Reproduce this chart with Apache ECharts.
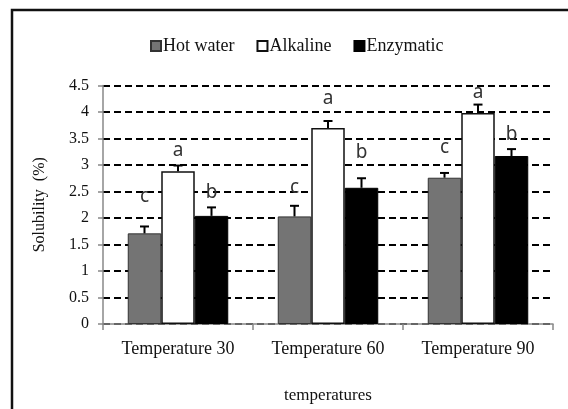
<!DOCTYPE html>
<html>
<head>
<meta charset="utf-8">
<script src="https://cdn.jsdelivr.net/npm/echarts@6/dist/echarts.min.js"></script>
<style>
  html, body { margin: 0; padding: 0; background: #fff; }
  #chart { width: 568px; height: 409px; }
</style>
</head>
<body>
<div id="chart"></div>
<script>
const categories = ['Temperature 30', 'Temperature 60', 'Temperature 90'];
const seriesNames = ['Hot water', 'Alkaline', 'Enzymatic'];

const hotWater = [1.71, 2.03, 2.76];
const alkaline = [2.88, 3.70, 3.98];
const enzymatic = [2.04, 2.57, 3.17];

// upper error bar length
const hotWaterErr = [0.13, 0.20, 0.09];
const alkalineErr = [0.11, 0.13, 0.16];
const enzymaticErr = [0.16, 0.18, 0.13];

// significance letters and the height they sit at
const hotWaterLetters = ['c', 'c', 'c'];
const alkalineLetters = ['a', 'a', 'a'];
const enzymaticLetters = ['b', 'b', 'b'];
const hotWaterLetterY = [2.40, 2.57, 3.32];
const alkalineLetterY = [3.28, 4.26, 4.36];
const enzymaticLetterY = [2.47, 3.23, 3.57];

const yTicks = [0, 0.5, 1, 1.5, 2, 2.5, 3, 3.5, 4, 4.5];

const serif = '"Liberation Serif", "DejaVu Serif", serif';
const sans = '"Noto Sans", "DejaVu Sans", sans-serif';
const BAR_W = 33.5;

const chart = echarts.init(document.getElementById('chart'));

function errSeries(idx, values, errs, letters, letterY) {
  return {
    type: 'custom',
    name: seriesNames[idx] + ' err',
    z: 5,
    silent: true,
    data: values.map((v, i) => [i, v, v + errs[i], letterY[i]]),
    renderItem: (params, api) => {
      const i = api.value(0);
      const base = api.coord([i, api.value(1)]);
      const top = api.coord([i, api.value(2)]);
      const lab = api.coord([i, api.value(3)]);
      const x = base[0] + (idx - 1) * BAR_W;
      return {
        type: 'group',
        children: [
          { type: 'line', shape: { x1: x, y1: base[1], x2: x, y2: top[1] },
            style: { stroke: '#000', lineWidth: 2 } },
          { type: 'line', shape: { x1: x - 4.5, y1: top[1], x2: x + 4.5, y2: top[1] },
            style: { stroke: '#000', lineWidth: 2 } },
          { type: 'text', x: x, y: lab[1],
            style: { text: letters[i], fill: '#333', font: '19px ' + sans,
              align: 'center', verticalAlign: 'middle' } }
        ]
      };
    }
  };
}

const option = {
  animation: false,
  backgroundColor: '#fff',
  graphic: [{
    type: 'rect',
    shape: { x: 12, y: 10, width: 600, height: 450 },
    style: { fill: 'none', stroke: '#111', lineWidth: 2.5 },
    silent: true
  }],
  legend: {
    top: 32,
    left: 145,
    itemWidth: 10,
    itemHeight: 10,
    itemGap: 22,
    icon: 'rect',
    data: seriesNames,
    textStyle: { fontFamily: serif, fontSize: 18, color: '#111', padding: [0, 0, 0, -3] }
  },
  grid: { left: 103, right: 15, top: 85.5, bottom: 85 },
  xAxis: {
    type: 'category',
    data: categories,
    name: 'temperatures',
    nameLocation: 'middle',
    nameGap: 63,
    nameTextStyle: { fontFamily: serif, fontSize: 17, color: '#111' },
    axisLine: { lineStyle: { color: '#888', width: 1.5 } },
    axisTick: { show: true, length: 6, lineStyle: { color: '#888', width: 1.5 } },
    axisLabel: { fontFamily: serif, fontSize: 18, color: '#111', margin: 16 }
  },
  yAxis: {
    type: 'value',
    min: 0,
    max: 4.5,
    interval: 0.5,
    name: 'Solubility  (%)',
    nameLocation: 'middle',
    nameGap: 55,
    nameTextStyle: { fontFamily: serif, fontSize: 16, color: '#111' },
    axisLine: { show: true, lineStyle: { color: '#888', width: 1.5 } },
    axisTick: { show: true, length: 5, lineStyle: { color: '#888', width: 1.5 } },
    axisLabel: {
      fontFamily: serif, fontSize: 16, color: '#111', margin: 14,
      formatter: v => yTicks.includes(v) ? String(v) : ''
    },
    splitLine: { lineStyle: { color: '#000', width: 2, type: [7, 4] } }
  },
  series: [
    { name: seriesNames[0], type: 'bar', data: hotWater, barWidth: BAR_W, barGap: '0%',
      itemStyle: { color: '#747474', borderColor: '#333', borderWidth: 1 } },
    { name: seriesNames[1], type: 'bar', data: alkaline, barWidth: BAR_W, barGap: '0%',
      itemStyle: { color: '#fff', borderColor: '#111', borderWidth: 1.5 } },
    { name: seriesNames[2], type: 'bar', data: enzymatic, barWidth: BAR_W, barGap: '0%',
      itemStyle: { color: '#000', borderColor: '#000', borderWidth: 1 } },
    errSeries(0, hotWater, hotWaterErr, hotWaterLetters, hotWaterLetterY),
    errSeries(1, alkaline, alkalineErr, alkalineLetters, alkalineLetterY),
    errSeries(2, enzymatic, enzymaticErr, enzymaticLetters, enzymaticLetterY)
  ]
};

chart.setOption(option);
window.addEventListener('resize', () => chart.resize());
</script>
</body>
</html>
